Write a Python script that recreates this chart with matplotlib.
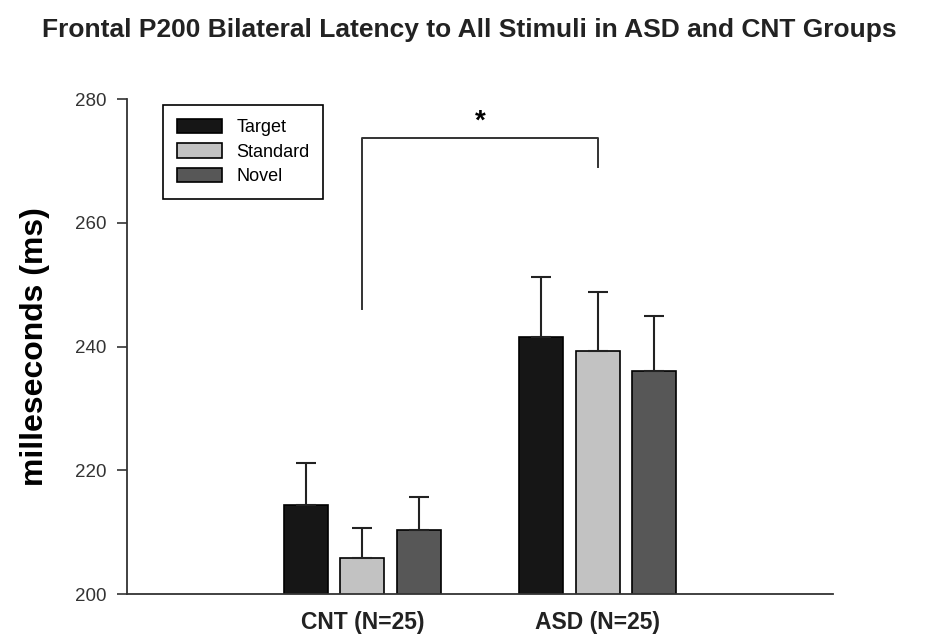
import matplotlib
matplotlib.use("Agg")
import matplotlib.pyplot as plt
import numpy as np

plt.rcParams['font.family'] = ['Liberation Sans', 'DejaVu Sans']

groups = ["CNT (N=25)", "ASD (N=25)"]
stimuli = ["Target", "Standard", "Novel"]
colors = ["#161616", "#c2c2c2", "#575757"]

target_mean = [214.4, 241.6]
standard_mean = [205.8, 239.2]
novel_mean = [210.3, 236.1]
target_err = [6.7, 9.7]
standard_err = [4.8, 9.6]
novel_err = [5.3, 8.8]

means = [target_mean, standard_mean, novel_mean]
errs = [target_err, standard_err, novel_err]

fig = plt.figure(figsize=(9.29, 6.36), dpi=100)
ax = fig.add_axes([0.1367, 0.066, 0.76, 0.7783])

x = np.arange(len(groups))
offsets = [-0.24, 0.0, 0.24]
width = 0.186
for i in range(3):
    ax.bar(x + offsets[i], means[i], width, color=colors[i], edgecolor="black",
           linewidth=1.2, label=stimuli[i],
           yerr=[np.zeros(2), errs[i]], capsize=7,
           error_kw=dict(ecolor="#222222", elinewidth=1.5, capthick=1.5))

# significance bracket
ax.plot([0, 0, 1, 1], [246, 273.7, 273.7, 269], color="#333333", lw=1.4)
ax.text(0.5, 274.2, "*", ha="center", va="bottom", fontsize=20, fontweight="bold")

ax.set_xlim(-1, 2)
ax.set_ylim(200, 280)
ax.set_yticks([200, 220, 240, 260, 280])
ax.set_xticks(x)
ax.set_xticklabels(groups, fontsize=16.5, fontweight="bold", color="#222222")
ax.tick_params(axis="x", length=0, pad=12)
ax.tick_params(axis="y", length=7, width=1.2, labelsize=13.5, colors="#333333", pad=8)
for s in ["top", "right"]:
    ax.spines[s].set_visible(False)
for s in ["left", "bottom"]:
    ax.spines[s].set_linewidth(1.3)
    ax.spines[s].set_color("#333333")

ax.set_ylabel("milleseconds (ms)", fontsize=23, fontweight="bold", labelpad=18)

leg = ax.legend(loc="upper left", bbox_to_anchor=(0.051, 0.988), borderaxespad=0,
                fontsize=13, handlelength=2.5, handleheight=0.85, labelspacing=0.4,
                borderpad=0.75, handletextpad=0.8, fancybox=False, framealpha=1)
leg.get_frame().set_edgecolor("black")
leg.get_frame().set_linewidth(1.2)

fig.text(0.505, 0.953, "Frontal P200 Bilateral Latency to All Stimuli in ASD and CNT Groups",
         ha="center", va="center", fontsize=19, fontweight="bold", color="#222222")

fig.savefig("out.png", dpi=100)
